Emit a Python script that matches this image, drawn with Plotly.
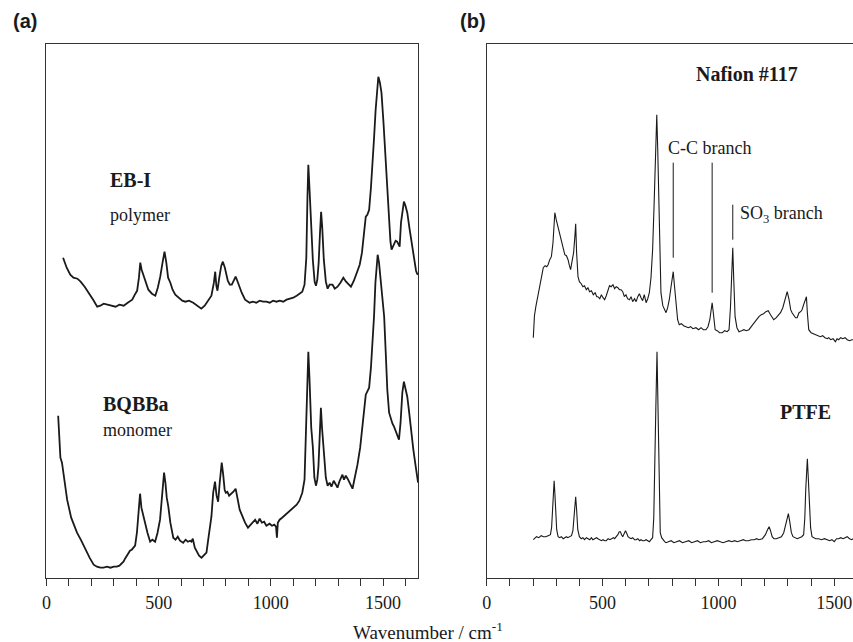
import plotly.graph_objects as go

# ---- Panel (a): EB-I polymer and BQBBa monomer Raman spectra ----
ebi = [
    (74, 320), (90, 310), (106, 303), (120, 300), (138, 299), (152, 296), (170, 291), (189, 285),
    (208, 278), (226, 271), (240, 272), (255, 274), (270, 273), (290, 272), (308, 271), (325, 273),
    (344, 272), (362, 275), (382, 278), (396, 284), (404, 287), (412, 300), (418, 315), (424, 308),
    (435, 300), (445, 295), (454, 288), (470, 284), (485, 282), (496, 290), (507, 301), (518, 316),
    (526, 326), (534, 315), (542, 300), (552, 295), (562, 288), (574, 283), (590, 280), (605, 277),
    (619, 276), (635, 277), (654, 275), (672, 272), (690, 269), (705, 272), (721, 277), (735, 282),
    (746, 295), (752, 306), (757, 292), (762, 287), (770, 300), (779, 312), (786, 316), (795, 310),
    (808, 297), (817, 293), (826, 293), (835, 298), (843, 301), (852, 296), (860, 290), (870, 285),
    (885, 278), (905, 275), (920, 276), (935, 275), (950, 277), (965, 276), (980, 276), (995, 275),
    (1010, 277), (1025, 276), (1040, 277), (1055, 276), (1070, 278), (1085, 279), (1100, 280),
    (1115, 282), (1130, 284), (1140, 286), (1150, 293), (1158, 320), (1163, 380), (1167, 413),
    (1172, 390), (1180, 345), (1187, 318), (1195, 296), (1201, 292), (1207, 298), (1213, 315),
    (1219, 345), (1224, 366), (1229, 350), (1236, 318), (1245, 296), (1253, 289), (1262, 293),
    (1275, 293), (1285, 289), (1297, 291), (1310, 295), (1323, 300), (1335, 296), (1345, 294),
    (1357, 291), (1370, 297), (1386, 306), (1396, 313), (1406, 325), (1416, 350), (1423, 361),
    (1430, 363), (1438, 368), (1446, 390), (1453, 411), (1460, 440), (1467, 468), (1474, 492),
    (1479, 501), (1486, 495), (1493, 485), (1502, 455), (1512, 418), (1520, 380), (1527, 351),
    (1533, 336), (1538, 328), (1548, 333), (1556, 337), (1563, 336), (1568, 333), (1574, 331),
    (1580, 355), (1586, 368), (1593, 376), (1600, 372), (1608, 365), (1618, 349), (1630, 331),
    (1640, 315), (1647, 307), (1652, 304), (1656, 303),
]
ebi_wn = [p[0] for p in ebi]
ebi_int = [p[1] for p in ebi]

bqbba = [
    (52, 162), (56, 140), (62, 120), (69, 115), (80, 95), (92, 78), (110, 60), (136, 45), (155, 37),
    (173, 28), (192, 20), (210, 13), (225, 11), (240, 10), (254, 10), (270, 11), (285, 10), (300, 11),
    (313, 11), (325, 12), (335, 14), (343, 16), (350, 19), (358, 22), (365, 24), (372, 27), (380, 28),
    (388, 30), (395, 32), (403, 45), (410, 70), (417, 84), (423, 70), (432, 61), (440, 55), (450, 45),
    (462, 36), (472, 38), (484, 36), (495, 45), (506, 58), (515, 80), (520, 95), (524, 105), (530, 95),
    (536, 80), (543, 71), (552, 55), (565, 40), (575, 38), (585, 41), (595, 37), (609, 35), (620, 38),
    (630, 36), (640, 37), (646, 36), (652, 39), (661, 30), (670, 26), (680, 22), (691, 20), (702, 23),
    (713, 25), (722, 40), (735, 61), (743, 85), (751, 96), (758, 82), (765, 76), (772, 95), (781, 115),
    (787, 104), (794, 88), (799, 85), (806, 86), (814, 82), (824, 84), (833, 86), (843, 89), (852, 80),
    (861, 68), (872, 62), (885, 55), (898, 50), (910, 53), (920, 55), (930, 58), (940, 54), (950, 59),
    (960, 55), (970, 56), (980, 52), (994, 54), (1005, 52), (1015, 53), (1023, 51), (1027, 40),
    (1031, 55), (1039, 58), (1050, 60), (1060, 62), (1070, 64), (1083, 66), (1095, 69), (1105, 71),
    (1115, 73), (1127, 77), (1140, 85), (1150, 98), (1156, 140), (1162, 195), (1167, 226), (1172, 200),
    (1180, 150), (1187, 131), (1194, 100), (1201, 92), (1207, 98), (1212, 111), (1218, 145),
    (1223, 170), (1228, 150), (1238, 118), (1245, 100), (1253, 92), (1262, 95), (1270, 91), (1280, 97),
    (1290, 93), (1297, 90), (1305, 96), (1312, 100), (1319, 103), (1326, 98), (1334, 102), (1342, 99),
    (1350, 95), (1358, 91), (1364, 89), (1372, 98), (1386, 113), (1398, 130), (1408, 148), (1416, 168),
    (1423, 183), (1430, 186), (1438, 190), (1446, 210), (1453, 231), (1460, 262), (1466, 295),
    (1472, 320), (1476, 323), (1482, 315), (1490, 298), (1498, 280), (1505, 261), (1512, 225),
    (1519, 188), (1527, 165), (1535, 158), (1542, 154), (1549, 151), (1556, 147), (1563, 143),
    (1571, 138), (1578, 155), (1586, 185), (1593, 196), (1600, 190), (1608, 181), (1615, 168),
    (1623, 151), (1635, 128), (1645, 112), (1652, 101), (1656, 95),
]
bqbba_wn = [p[0] for p in bqbba]
bqbba_int = [p[1] for p in bqbba]

# ---- Panel (b): Nafion #117 and PTFE Raman spectra ----
nafion = [
    (201, 240), (206, 262), (212, 271), (220, 282), (229, 291), (236, 300), (244, 310), (252, 312),
    (259, 311), (265, 313), (272, 318), (279, 321), (286, 335), (294, 365), (300, 358), (308, 350),
    (315, 344), (322, 338), (330, 327), (337, 323), (344, 322), (351, 318), (357, 312), (362, 308),
    (368, 316), (375, 325), (380, 340), (384, 354), (388, 325), (394, 301), (400, 296), (408, 294),
    (415, 291), (422, 292), (430, 288), (437, 290), (444, 286), (452, 287), (460, 283), (468, 285),
    (475, 281), (480, 281), (488, 279), (495, 283), (502, 280), (509, 278), (516, 282), (523, 287),
    (530, 292), (537, 291), (545, 293), (552, 289), (559, 291), (566, 290), (573, 288), (580, 288),
    (587, 286), (594, 281), (601, 283), (608, 279), (616, 278), (623, 281), (630, 276), (638, 279),
    (645, 276), (652, 281), (659, 284), (666, 280), (673, 277), (680, 283), (688, 275), (695, 279),
    (702, 285), (709, 300), (716, 328), (722, 370), (726, 411), (730, 445), (734, 463), (738, 430),
    (742, 378), (747, 320), (752, 285), (760, 272), (767, 268), (774, 265), (781, 270), (788, 278),
    (795, 290), (800, 300), (805, 306), (810, 293), (817, 271), (824, 258), (831, 253), (840, 254),
    (850, 252), (860, 251), (870, 250), (880, 251), (890, 249), (903, 250), (915, 248), (925, 250),
    (935, 248), (946, 248), (955, 251), (963, 258), (968, 268), (973, 275), (978, 265), (986, 248),
    (995, 247), (1005, 245), (1017, 245), (1027, 247), (1038, 246), (1046, 248), (1052, 270),
    (1056, 300), (1062, 330), (1066, 300), (1072, 261), (1080, 250), (1089, 246), (1100, 247),
    (1110, 248), (1120, 247), (1132, 248), (1145, 252), (1158, 256), (1168, 260), (1175, 261),
    (1185, 263), (1195, 264), (1205, 266), (1215, 267), (1225, 263), (1239, 258), (1250, 260),
    (1260, 263), (1268, 265), (1278, 270), (1288, 280), (1297, 286), (1305, 278), (1312, 268),
    (1318, 265), (1325, 262), (1333, 260), (1340, 260), (1348, 265), (1355, 266), (1361, 268),
    (1368, 273), (1375, 278), (1380, 281), (1384, 265), (1390, 248), (1400, 245), (1410, 244),
    (1418, 243), (1430, 242), (1440, 241), (1450, 242), (1460, 240), (1470, 239), (1476, 240),
    (1485, 238), (1495, 239), (1505, 236), (1512, 239), (1519, 238), (1528, 240), (1537, 239),
    (1547, 240), (1556, 238), (1566, 237), (1576, 238), (1581, 238),
]
nafion_wn = [p[0] for p in nafion]
nafion_int = [p[1] for p in nafion]

ptfe = [
    (201, 38), (208, 40), (215, 41), (225, 40), (235, 42), (245, 41), (255, 41), (265, 42), (275, 43),
    (280, 50), (284, 65), (288, 85), (291, 97), (294, 85), (298, 61), (302, 48), (308, 41), (315, 40),
    (322, 41), (330, 39), (337, 40), (344, 41), (350, 40), (358, 41), (366, 42), (372, 47), (377, 60),
    (381, 75), (384, 81), (388, 68), (393, 48), (400, 41), (408, 39), (415, 40), (422, 38), (430, 40),
    (438, 39), (445, 38), (452, 40), (458, 38), (466, 39), (474, 40), (480, 39), (488, 38), (495, 37),
    (502, 38), (509, 37), (516, 37), (524, 39), (532, 38), (540, 39), (547, 40), (552, 39), (559, 41),
    (566, 43), (572, 46), (577, 46), (582, 43), (587, 41), (593, 44), (599, 47), (605, 44), (610, 41),
    (616, 40), (623, 39), (630, 40), (638, 38), (645, 38), (652, 39), (660, 37), (666, 38), (673, 37),
    (680, 37), (688, 38), (695, 37), (702, 36), (709, 38), (716, 40), (721, 60), (726, 105), (730, 170),
    (735, 226), (739, 175), (742, 121), (746, 70), (749, 45), (755, 40), (762, 37), (768, 36),
    (774, 35), (785, 36), (796, 37), (808, 35), (820, 36), (832, 37), (845, 35), (860, 36), (872, 37),
    (885, 35), (898, 36), (910, 37), (922, 35), (935, 36), (946, 36), (958, 37), (970, 35), (982, 36),
    (995, 37), (1008, 36), (1020, 35), (1032, 36), (1045, 37), (1058, 36), (1070, 37), (1082, 36),
    (1095, 37), (1108, 38), (1117, 37), (1130, 37), (1142, 38), (1155, 38), (1165, 39), (1175, 38),
    (1190, 39), (1203, 43), (1212, 48), (1219, 51), (1225, 47), (1232, 41), (1240, 39), (1250, 39),
    (1261, 40), (1272, 41), (1282, 45), (1289, 51), (1295, 58), (1302, 64), (1308, 56), (1315, 45),
    (1322, 41), (1330, 40), (1340, 39), (1350, 40), (1360, 41), (1368, 43), (1373, 60), (1377, 88),
    (1380, 105), (1384, 119), (1388, 100), (1393, 71), (1398, 50), (1404, 41), (1412, 40), (1420, 39),
    (1433, 39), (1445, 38), (1458, 39), (1470, 38), (1480, 37), (1490, 38), (1500, 36), (1510, 39),
    (1519, 39), (1528, 40), (1538, 39), (1547, 40), (1556, 41), (1566, 39), (1576, 38), (1581, 39),
]
ptfe_wn = [p[0] for p in ptfe]
ptfe_int = [p[1] for p in ptfe]

# Band markers: (wavenumber, lower end, upper end)
cc_marks = [(805, 320, 415), (973, 285, 415)]
so3_marks = [(1062, 338, 373)]

XMAX_A = 1656
XMAX_B = 1581
YMAX = 533.7

INK = "#1a1a1a"
SERIF = "Liberation Serif"

fig = go.Figure()

fig.add_trace(go.Scatter(x=ebi_wn, y=ebi_int, mode="lines", xaxis="x", yaxis="y",
                         line=dict(color=INK, width=1.8), showlegend=False))
fig.add_trace(go.Scatter(x=bqbba_wn, y=bqbba_int, mode="lines", xaxis="x", yaxis="y",
                         line=dict(color=INK, width=1.8), showlegend=False))
fig.add_trace(go.Scatter(x=nafion_wn, y=nafion_int, mode="lines", xaxis="x2", yaxis="y2",
                         line=dict(color=INK, width=1.1), showlegend=False))
fig.add_trace(go.Scatter(x=ptfe_wn, y=ptfe_int, mode="lines", xaxis="x2", yaxis="y2",
                         line=dict(color=INK, width=1.1), showlegend=False))

for wn, lo, hi in cc_marks + so3_marks:
    fig.add_trace(go.Scatter(x=[wn, wn], y=[lo, hi], mode="lines", xaxis="x2", yaxis="y2",
                             line=dict(color=INK, width=1), showlegend=False, hoverinfo="skip"))

xcommon = dict(
    showline=True, linecolor="#333", linewidth=1.2, mirror=True,
    ticks="outside", ticklen=7, tickwidth=1, tickcolor="#333",
    tickvals=[0, 500, 1000, 1500], showgrid=False, zeroline=False,
    minor=dict(dtick=100, tick0=0, ticks="outside", ticklen=7, tickwidth=1, tickcolor="#333"),
    tickfont=dict(family=SERIF, size=18, color=INK), ticklabelstandoff=2,
)
ycommon = dict(range=[0, YMAX], showticklabels=False, ticks="", showgrid=False, zeroline=False,
               showline=True, linecolor="#333", linewidth=1.2, domain=[64.3 / 642, 598 / 642])

fig.update_layout(
    width=853, height=642,
    margin=dict(l=0, r=0, t=0, b=0),
    paper_bgcolor="white", plot_bgcolor="white",
    font=dict(family=SERIF, size=18, color=INK),
    xaxis=dict(range=[0, XMAX_A], domain=[42.7 / 853, 416 / 853], anchor="y", **xcommon),
    yaxis=dict(anchor="x", mirror=True, **ycommon),
    xaxis2=dict(range=[0, XMAX_B], domain=[485 / 853, 1.0], anchor="y2", **xcommon),
    yaxis2=dict(anchor="x2", mirror=False, **ycommon),
)

def label(text, x, y, ref, size, bold=False):
    fig.add_annotation(
        text=f"<b>{text}</b>" if bold else text, x=x, y=y, xref=ref[0], yref=ref[1],
        xanchor="left", yanchor="middle", showarrow=False,
        font=dict(family=SERIF, size=size, color=INK),
    )

label("EB-I", 276, 398, ("x", "y"), 20, bold=True)
label("polymer", 276, 363, ("x", "y"), 18)
label("BQBBa", 245, 174, ("x", "y"), 20, bold=True)
label("monomer", 245, 148, ("x", "y"), 18)
label("Nafion #117", 894, 504, ("x2", "y2"), 20, bold=True)
label("PTFE", 1259, 166, ("x2", "y2"), 20, bold=True)
label("C-C branch", 773, 430, ("x2", "y2"), 18)
label("SO<sub>3</sub> branch", 1083, 363, ("x2", "y2"), 18)

# Panel letters
for letter, px in (("(a)", 7), ("(b)", 456)):
    fig.add_annotation(text=f"<b>{letter}</b>", x=px / 853, y=1 - 21 / 642, xref="paper", yref="paper",
                       xanchor="left", yanchor="middle", showarrow=False,
                       font=dict(family="Liberation Sans", size=20, color=INK))

# Shared axis title
fig.add_annotation(text="Wavenumber / cm<sup>-1</sup>", x=426 / 853, y=1 - 631 / 642,
                   xref="paper", yref="paper", xanchor="center", yanchor="middle",
                   showarrow=False, font=dict(family=SERIF, size=19, color=INK))

fig.write_html("out.html")
